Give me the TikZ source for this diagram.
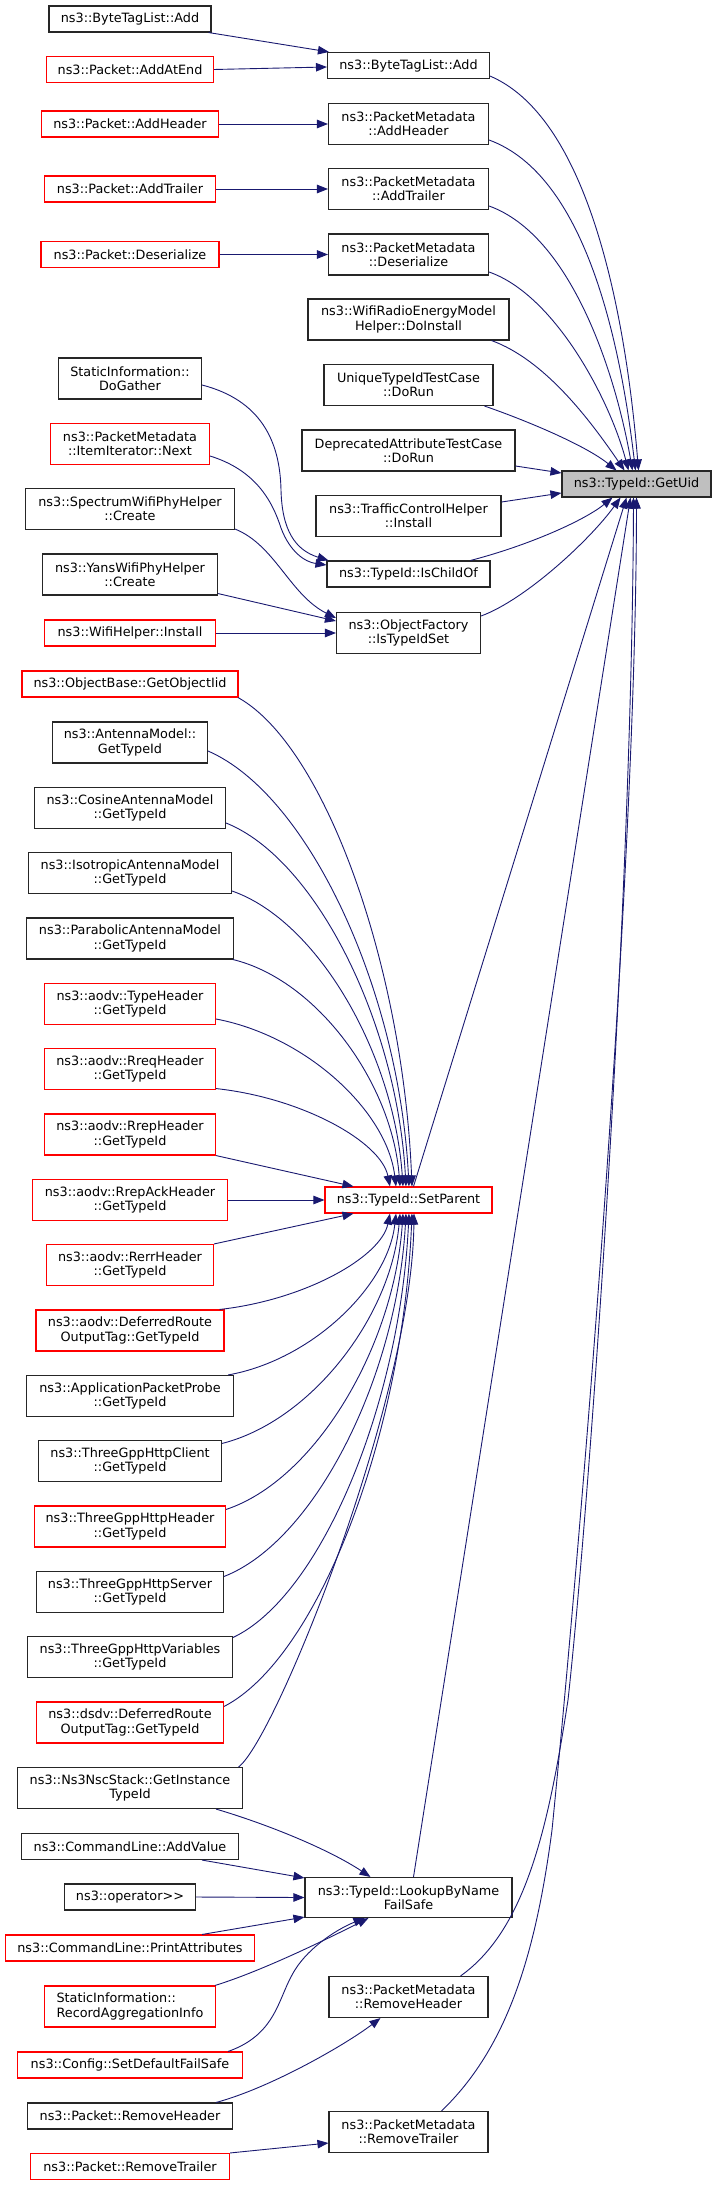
\documentclass[tikz,border=0pt]{standalone}
\usepackage{fontspec}
\newfontfamily\dv{DejaVu Sans}
\usetikzlibrary{arrows.meta,calc}
\definecolor{eblue}{HTML}{191970}
\definecolor{gbox}{HTML}{BFBFBF}
\begin{document}
\begin{tikzpicture}[x=1bp,y=-1bp,
 box/.style={draw=black!85, line width=1.1bp, fill=white, inner sep=0pt, align=center,
   font={\dv\fontsize{12.8bp}{14.4bp}\selectfont}, minimum height=26bp},
 rbox/.style={box, draw=red},
 tbox/.style={box, minimum height=41bp},
 trbox/.style={rbox, minimum height=41bp},
 e/.style={draw=eblue, line width=0.9bp, -{Triangle[length=11bp,width=8.5bp]}}]
\useasboundingbox (0,0) rectangle (716,2185);

% ---------------- left column ----------------
\node[box, minimum width=162bp] (btlAddL) at (130,19) {ns3::ByteTagList::Add};
\node[rbox, minimum width=167bp] (addAtEnd) at (130,69.5) {ns3::Packet::AddAtEnd};
\node[rbox, minimum width=177bp] (pAddHeader) at (130,124) {ns3::Packet::AddHeader};
\node[rbox, minimum width=171bp] (pAddTrailer) at (130,189) {ns3::Packet::AddTrailer};
\node[rbox, minimum width=178bp] (pDeser) at (130,254.5) {ns3::Packet::Deserialize};
\node[tbox, minimum width=143bp] (doGather) at (130,378.5) {StaticInformation::\\DoGather};
\node[trbox, minimum width=159bp] (itemNext) at (130,444) {ns3::PacketMetadata\\::ItemIterator::Next};
\node[tbox, minimum width=209bp] (spectrum) at (130,509) {ns3::SpectrumWifiPhyHelper\\::Create};
\node[tbox, minimum width=175bp] (yans) at (130,574.5) {ns3::YansWifiPhyHelper\\::Create};
\node[rbox, minimum width=171bp] (wifiInst) at (130,633) {ns3::WifiHelper::Install};
\node[rbox, minimum width=216bp] (objBase) at (130,684) {ns3::ObjectBase::GetObjectIid};
\node[tbox, minimum width=155bp] (antenna) at (130,742.5) {ns3::AntennaModel::\\GetTypeId};
\node[tbox, minimum width=191bp] (cosine) at (130,808) {ns3::CosineAntennaModel\\::GetTypeId};
\node[tbox, minimum width=203bp] (isotropic) at (130,873) {ns3::IsotropicAntennaModel\\::GetTypeId};
\node[tbox, minimum width=207bp] (parabolic) at (130,938.5) {ns3::ParabolicAntennaModel\\::GetTypeId};
\node[trbox, minimum width=171bp] (typeHdr) at (130,1004) {ns3::aodv::TypeHeader\\::GetTypeId};
\node[trbox, minimum width=171bp] (rreq) at (130,1069) {ns3::aodv::RreqHeader\\::GetTypeId};
\node[trbox, minimum width=171bp] (rrep) at (130,1134.5) {ns3::aodv::RrepHeader\\::GetTypeId};
\node[trbox, minimum width=195bp] (rrepAck) at (130,1200) {ns3::aodv::RrepAckHeader\\::GetTypeId};
\node[trbox, minimum width=167bp] (rerr) at (130,1265) {ns3::aodv::RerrHeader\\::GetTypeId};
\node[trbox, minimum width=188bp] (aodvDef) at (130,1330.5) {ns3::aodv::DeferredRoute\\OutputTag::GetTypeId};
\node[tbox, minimum width=207bp] (appProbe) at (130,1396) {ns3::ApplicationPacketProbe\\::GetTypeId};
\node[tbox, minimum width=183bp] (client) at (130,1461) {ns3::ThreeGppHttpClient\\::GetTypeId};
\node[trbox, minimum width=191bp] (header) at (130,1526.5) {ns3::ThreeGppHttpHeader\\::GetTypeId};
\node[tbox, minimum width=187bp] (server) at (130,1592) {ns3::ThreeGppHttpServer\\::GetTypeId};
\node[tbox, minimum width=205bp] (vars) at (130,1657) {ns3::ThreeGppHttpVariables\\::GetTypeId};
\node[trbox, minimum width=187bp] (dsdv) at (130,1722.5) {ns3::dsdv::DeferredRoute\\OutputTag::GetTypeId};
\node[tbox, minimum width=225bp] (nsc) at (130,1788) {ns3::Ns3NscStack::GetInstance\\TypeId};
\node[box, minimum width=217bp] (addValue) at (130,1846.5) {ns3::CommandLine::AddValue};
\node[box, minimum width=131bp] (opShift) at (130,1897) {ns3::operator>\kern0pt>};
\node[rbox, minimum width=249bp] (printAttr) at (130,1948) {ns3::CommandLine::PrintAttributes};
\node[trbox, minimum width=171bp, align=left] (recAgg) at (130,2006.5) {StaticInformation::\\RecordAggregationInfo};
\node[rbox, minimum width=225bp] (setDef) at (130,2065) {ns3::Config::SetDefaultFailSafe};
\node[box, minimum width=205bp] (pRemHdr) at (130,2116) {ns3::Packet::RemoveHeader};
\node[rbox, minimum width=199bp] (pRemTr) at (130,2166.5) {ns3::Packet::RemoveTrailer};

% ---------------- middle column ----------------
\node[box, minimum width=162bp] (btlAddR) at (408.5,65.5) {ns3::ByteTagList::Add};
\node[tbox, minimum width=160bp] (pmAddHeader) at (408.5,124) {ns3::PacketMetadata\\::AddHeader};
\node[tbox, minimum width=160bp] (pmAddTrailer) at (408.5,189) {ns3::PacketMetadata\\::AddTrailer};
\node[tbox, minimum width=160bp] (pmDeser) at (408.5,254.5) {ns3::PacketMetadata\\::Deserialize};
\node[tbox, minimum width=201bp] (wifiRadio) at (408.5,319.5) {ns3::WifiRadioEnergyModel\\Helper::DoInstall};
\node[tbox, minimum width=169bp] (uniqueTid) at (408.5,385) {UniqueTypeIdTestCase\\::DoRun};
\node[tbox, minimum width=213bp] (deprecated) at (408.5,450.5) {DeprecatedAttributeTestCase\\::DoRun};
\node[tbox, minimum width=185bp] (traffic) at (408.5,516) {ns3::TrafficControlHelper\\::Install};
\node[box, minimum width=163bp] (isChildOf) at (408.5,574) {ns3::TypeId::IsChildOf};
\node[tbox, minimum width=144bp] (isTypeIdSet) at (408.5,633) {ns3::ObjectFactory\\::IsTypeIdSet};
\node[rbox, minimum width=167bp] (setParent) at (408.5,1200) {ns3::TypeId::SetParent};
\node[box, minimum width=207bp, minimum height=40bp] (lookup) at (408.5,1897.5) {ns3::TypeId::LookupByName\\FailSafe};
\node[tbox, minimum width=159bp] (pmRemHdr) at (408.5,1997) {ns3::PacketMetadata\\::RemoveHeader};
\node[tbox, minimum width=159bp] (pmRemTr) at (408.5,2132) {ns3::PacketMetadata\\::RemoveTrailer};

% ---------------- target ----------------
\node[box, fill=gbox, minimum width=149bp] (getUid) at (636.5,484) {ns3::TypeId::GetUid};

% ---------------- edges: upper left -> middle ----------------
\draw[e] ($(btlAddL.south east)+(-3,0)$) -- ($(btlAddR.north west)+(2,0)$);
\draw[e] (addAtEnd.east) -- ($(btlAddR.west)+(0,1.5)$);
\draw[e] (pAddHeader.east) -- (pmAddHeader.west);
\draw[e] (pAddTrailer.east) -- (pmAddTrailer.west);
\draw[e] (pDeser.east) -- (pmDeser.west);

\draw[e] ($(doGather.east)+(0,6.5)$) .. controls (260,400) and (280,440) .. (281,490)
   .. controls (282,530) and (295,550) .. ($(isChildOf.north west)+(2,0)$);
\draw[e] ($(itemNext.east)+(0,12)$) .. controls (255,470) and (272,500) .. (281,528)
   .. controls (290,552) and (305,562) .. ($(isChildOf.west)+(0,-9)$);
\draw[e] ($(spectrum.south east)+(0,-1)$) .. controls (275,545) and (290,595) .. ($(isTypeIdSet.west)+(0,-15)$);
\draw[e] ($(yans.south east)+(0,-2)$) -- ($(isTypeIdSet.west)+(0,-12)$);
\draw[e] (wifiInst.east) -- (isTypeIdSet.west);

% ---------------- edges into GetUid ----------------
\draw[e] ($(btlAddR.south east)+(0,-3)$) .. controls (593,120) and (627,330) .. ($(getUid.north)+(2,0)$);
\draw[e] ($(pmAddHeader.east)+(0,16)$) .. controls (585,175) and (620,340) .. ($(getUid.north)+(-1,0)$);
\draw[e] ($(pmAddTrailer.east)+(0,17)$) .. controls (570,235) and (615,370) .. ($(getUid.north)+(-4,0)$);
\draw[e] ($(pmDeser.east)+(0,17.5)$) .. controls (555,295) and (610,400) .. ($(getUid.north)+(-8,0)$);
\draw[e] ($(wifiRadio.south east)+(-18,0)$) .. controls (545,360) and (590,420) .. ($(getUid.north)+(-12,0)$);
\draw[e] ($(uniqueTid.south east)+(-9,0)$) .. controls (525,420) and (585,445) .. ($(getUid.north)+(-20,0)$);
\draw[e] ($(deprecated.east)+(0,15.5)$) -- ($(getUid.west)+(0,-11)$);
\draw[e] ($(traffic.east)+(0,-14)$) -- ($(getUid.west)+(0,9)$);
\draw[e] ($(isChildOf.north east)+(-20,0)$) .. controls (530,545) and (585,520) .. ($(getUid.south)+(-24,0)$);
\draw[e] ($(isTypeIdSet.east)+(0,-17)$) .. controls (525,600) and (590,540) .. ($(getUid.south)+(-16,0)$);
\draw[e] ($(setParent.north)+(5,0)$) -- ($(getUid.south)+(-10,0)$);
\draw[e] ($(lookup.north)+(5,0)$) -- ($(getUid.south)+(-6,0)$);
\draw[e] ($(pmRemHdr.north east)+(-28,0)$) .. controls (525,1930) and (548,1830) .. (568,1700)
   .. controls (590,1500) and (632,900) .. ($(getUid.south)+(-3,0)$);
\draw[e] ($(pmRemTr.north)+(33,0)$) .. controls (505,2050) and (535,1960) .. (552,1830)
   .. controls (575,1600) and (636,900) .. ($(getUid.south)+(0,0)$);

% ---------------- edges into SetParent ----------------
\draw[e] ($(objBase.south east)+(-0.5,0)$) .. controls (325,746) and (403,966) .. ($(setParent.north)+(3.5,0)$);
\draw[e] ($(antenna.east)+(0,8.5)$) .. controls (309,795) and (399,991) .. ($(setParent.north)+(0.5,0)$);
\draw[e] ($(cosine.east)+(0,15)$) .. controls (316,859) and (397,1023) .. ($(setParent.north)+(-2.5,0)$);
\draw[e] ($(isotropic.east)+(0,18)$) .. controls (318,921) and (394,1054) .. ($(setParent.north)+(-5.5,0)$);
\draw[e] ($(parabolic.south east)+(-1,0)$) .. controls (317,980) and (392,1083) .. ($(setParent.north)+(-8.5,0)$);
\draw[e] ($(typeHdr.east)+(0,15)$) .. controls (306,1036) and (387,1111) .. ($(setParent.north)+(-12.5,0)$);
\draw[e] ($(rreq.south east)+(0,-1.5)$) .. controls (303,1098) and (381,1142) .. ($(setParent.north)+(-18.5,0)$);
\draw[e] (rrep.south east) -- ($(setParent.north west)+(29,0)$);
\draw[e] (rrepAck.east) -- (setParent.west);
\draw[e] (rerr.north east) -- ($(setParent.south west)+(29,0)$);
\draw[e] ($(aodvDef.north east)+(-5,0)$) .. controls (305,1300) and (381,1257) .. ($(setParent.south)+(-18.5,0)$);
\draw[e] ($(appProbe.north east)+(-6,0)$) .. controls (312,1360) and (388,1286) .. ($(setParent.south)+(-12.5,0)$);
\draw[e] ($(client.north east)+(0,3.5)$) .. controls (311,1421) and (391,1317) .. ($(setParent.south)+(-8.5,0)$);
\draw[e] ($(header.north east)+(0,4)$) .. controls (315,1480) and (394,1347) .. ($(setParent.south)+(-5.5,0)$);
\draw[e] ($(server.north east)+(0,5.5)$) .. controls (315,1541) and (397,1377) .. ($(setParent.south)+(-2.5,0)$);
\draw[e] ($(vars.north east)+(0,1.5)$) .. controls (321,1596) and (400,1404) .. ($(setParent.south)+(0.5,0)$);
\draw[e] ($(dsdv.north east)+(0,5)$) .. controls (318,1658) and (403,1435) .. ($(setParent.south)+(3.5,0)$);
\draw[e] ($(nsc.north east)+(-4.5,0)$) .. controls (275,1740) and (412,1400) .. ($(setParent.south)+(5.5,0)$);

% ---------------- edges into LookupByNameFailSafe ----------------
\draw[e] ($(nsc.south east)+(-27,0)$) .. controls (270,1825) and (330,1850) .. ($(lookup.north)+(-38,0)$);
\draw[e] ($(addValue.south east)+(-37,0)$) -- ($(lookup.north west)+(0,1)$);
\draw[e] (opShift.east) -- (lookup.west);
\draw[e] ($(printAttr.north east)+(-53,0)$) -- ($(lookup.south west)+(0,-1)$);
\draw[e] ($(recAgg.north east)+(-1,0)$) .. controls (265,1970) and (335,1935) .. ($(lookup.south)+(-40,0)$);
\draw[e] ($(setDef.north east)+(-15,0)$) .. controls (275,2035) and (278,2000) .. (292,1975)
   .. controls (305,1950) and (335,1930) .. ($(lookup.south)+(-44,0)$);

% ---------------- bottom ----------------
\draw[e] ($(pRemHdr.north east)+(-17,0)$) .. controls (270,2088) and (345,2045) .. ($(pmRemHdr.south)+(-28,0)$);
\draw[e] (pRemTr.north east) -- ($(pmRemTr.west)+(0,11)$);
\end{tikzpicture}
\end{document}
